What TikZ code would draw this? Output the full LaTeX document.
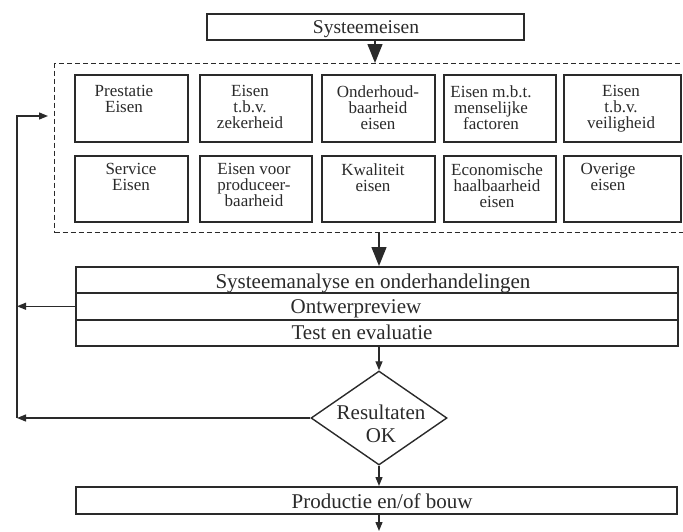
\documentclass[tikz,border=0pt]{standalone}
\usepackage{fontspec}
\setmainfont{Liberation Serif}
\usetikzlibrary{shapes.geometric,arrows.meta}
\definecolor{ink}{HTML}{2A2A2A}

\begin{document}
\begin{tikzpicture}[x=1pt,y=-1pt,
  box/.style={draw=ink, line width=1.5pt, rectangle, inner sep=0pt, anchor=north west},
  reqtop/.style={box, minimum height=67pt},
  reqbot/.style={box, minimum height=66pt},
  row/.style={box, minimum width=602pt},
  smalltxt/.style={font=\fontsize{17}{16}\selectfont, align=center, inner sep=0pt, text=ink, anchor=north},
  bigtxt/.style={font=\fontsize{21}{23}\selectfont, align=center, inner sep=0pt, text=ink, anchor=base},
  flow/.style={draw=ink, line width=1.3pt, -{Triangle[length=9pt,width=7pt]}},
  bigflow/.style={draw=ink, line width=1.3pt, -{Triangle[length=19pt,width=15pt]}},
]
\useasboundingbox (0,0) rectangle (683,531);
\clip (0,0) rectangle (683,531);

% top: system requirements
\node[box, minimum width=317pt, minimum height=26pt] (sys) at (206,13) {};
\node[bigtxt, font=\fontsize{19.5}{23}\selectfont] (systxt) at (366,33) {Systeemeisen};

% dashed group of requirement categories
\node[draw=ink, line width=1.3pt, dash pattern=on 5pt off 3pt, rectangle, inner sep=0pt,
      anchor=north west, minimum width=632pt, minimum height=169pt] (req) at (54,63) {};

\node[reqtop, minimum width=113pt] (r1) at (74,74) {};
\node[reqtop, minimum width=112pt] (r2) at (199,74) {};
\node[reqtop, minimum width=113pt] (r3) at (321,74) {};
\node[reqtop, minimum width=112pt] (r4) at (443,74) {};
\node[reqtop, minimum width=117pt] (r5) at (563,74) {};

\node[reqbot, minimum width=113pt] (r6) at (74,155) {};
\node[reqbot, minimum width=112pt] (r7) at (199,155) {};
\node[reqbot, minimum width=113pt] (r8) at (321,155) {};
\node[reqbot, minimum width=112pt] (r9) at (443,155) {};
\node[reqbot, minimum width=117pt] (r10) at (563,155) {};

\node[smalltxt] (t1) at (124,85) {Prestatie\\Eisen};
\node[smalltxt] (t2) at (250,85) {Eisen\\t.b.v.\\zekerheid};
\node[smalltxt] (t3) at (378,85) {Onderhoud-\\baarheid\\eisen};
\node[smalltxt] (t4) at (491,85) {Eisen m.b.t.\\menselijke\\factoren};
\node[smalltxt] (t5) at (621,85) {Eisen\\t.b.v.\\veiligheid};

\node[smalltxt] (t6) at (131,163) {Service\\Eisen};
\node[smalltxt] (t7) at (254,163) {Eisen voor\\produceer-\\baarheid};
\node[smalltxt] (t8) at (373,163) {Kwaliteit\\eisen};
\node[smalltxt] (t9) at (497,163) {Economische\\haalbaarheid\\eisen};
\node[smalltxt] (t10) at (608,163) {Overige\\eisen};

% analysis / review / test block
\node[row, minimum height=26pt] (sa) at (75,266) {};
\node[row, minimum height=27pt] (ow) at (75,292) {};
\node[row, minimum height=26pt] (te) at (75,319) {};
\node[bigtxt] (satxt) at (373,288) {Systeemanalyse en onderhandelingen};
\node[bigtxt] (owtxt) at (356,313) {Ontwerpreview};
\node[bigtxt] (tetxt) at (362,339) {Test en evaluatie};

% decision
\node[diamond, draw=ink, line width=1.4pt, minimum width=136pt, minimum height=94pt,
      inner sep=0pt] (ok) at (379,418) {};
\node[bigtxt, anchor=center] (oktxt) at (381,424) {Resultaten\\OK};

% production
\node[row, minimum width=601pt, minimum height=27pt] (prod) at (75,486) {};
\node[bigtxt] (prodtxt) at (382,508) {Productie en/of bouw};

% connectors
\coordinate (c1) at (375,0);
\coordinate (fb) at (17,0);
\coordinate (fbtop) at (17,116);
\coordinate (out) at (379,531);

\draw[bigflow] (sys.south -| c1) -- (req.north -| c1);
\draw[bigflow] (req.south -| ok) -- (sa.north -| ok);
\draw[flow] (te.south -| ok) -- (ok.north);
\draw[flow] (ok.south) -- (prod.north -| ok);
\draw[flow] (prod.south -| ok) -- (out);

% feedback loops
\draw[flow] (ow.west) -- (ow.west -| fb);
\draw[flow] (ok.west) -- (ok.west -| fb);
\draw[flow, shorten >=6pt] (ok.west -| fb) -- (fbtop) -- (fbtop -| req.west);
\end{tikzpicture}
\end{document}
